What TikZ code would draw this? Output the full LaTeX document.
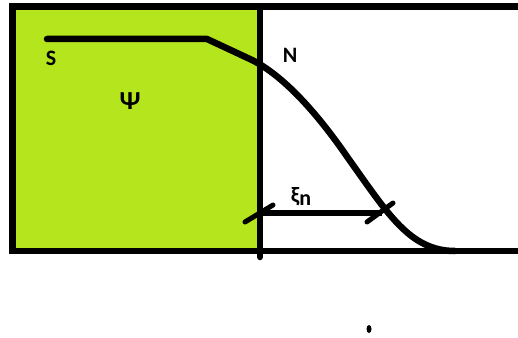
\documentclass[tikz,border=0pt]{standalone}
\usepackage{fontspec}
\setmainfont{Carlito}
\usetikzlibrary{calc}
\definecolor{lime}{RGB}{181,230,29}
\begin{document}
\begin{tikzpicture} [x = 1pt, y = -1pt, thickline/.style = {line width = 6.5pt}, lbl/.style = {font = \fontsize{22}{24}\selectfont\bfseries, inner sep = 0pt}]
	\useasboundingbox (0,0) rectangle (518,337);
	\fill [lime] (12.5,6.5) rectangle (260,251);
	\draw [thickline, line join = miter] (518,6.5) -- (12.5,6.5) -- (12.5,251) -- (518,251);
	\draw [thickline, line cap = round] (260,6.5) -- (260,257);
	% order parameter
	\draw [thickline, line cap = round, line join = round] (47,39) -- (207,39) -- (252,60) .. controls (282,75) and (315,110) .. (348,158) .. controls (388,214) and (410,251) .. (455,251);
	\node [lbl] (S) at (51,58) {S};
	\node [lbl] (N) at (290,55) {N};
	\node [lbl, font = \fontsize{26}{28}\selectfont\bfseries] (psi) at (130,101) {Ψ};
	% coherence length
	\coordinate (xiL) at (260,213);
	\coordinate (xiR) at (382,213);
	\draw [line width = 5.5pt] (xiL) -- (xiR);
	\draw [line width = 5pt, line cap = round] ($(xiL)+(-15,9)$) -- ($(xiL)+(13,-8)$);
	\draw [line width = 5pt, line cap = round] ($(xiR)+(-15,9)$) -- ($(xiR)+(11,-10)$);
	\node [lbl] (xi) at (301,197) {ξ\raisebox{-0.12em}{n}};
	\fill (369,329) ellipse (2.5 and 4);
\end{tikzpicture}
\end{document}
